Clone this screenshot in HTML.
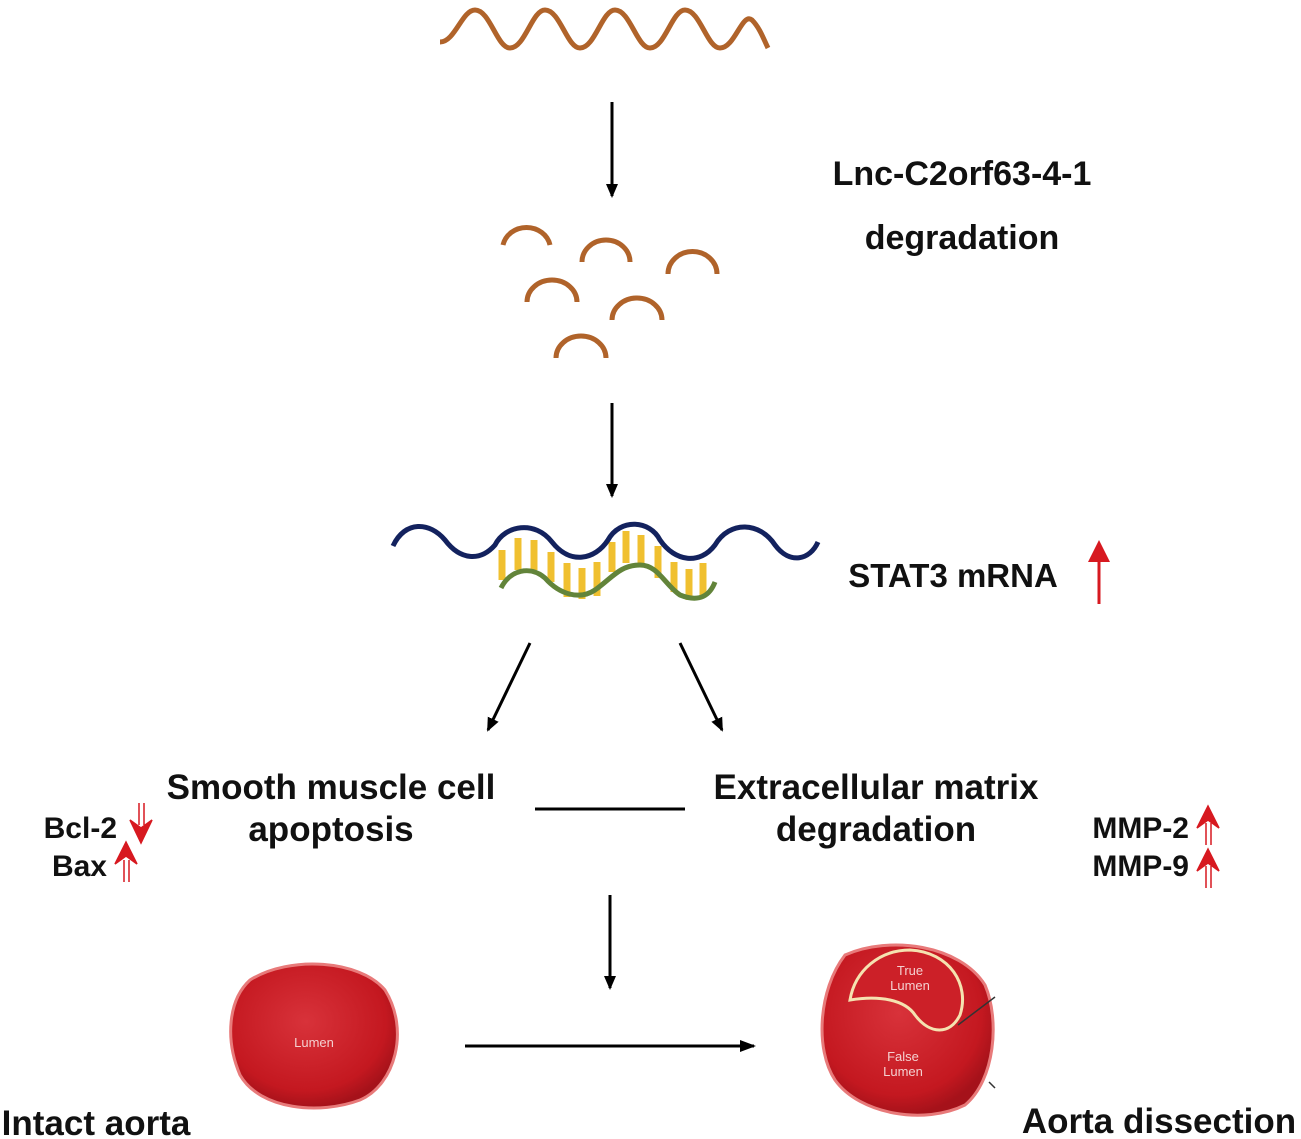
<!DOCTYPE html>
<html><head><style>
html,body{margin:0;padding:0;background:#fff;}
svg{display:block}
text{font-family:"Liberation Sans",Arial,sans-serif;font-weight:bold;fill:#111}
</style></head><body>
<svg width="1301" height="1139" viewBox="0 0 1301 1139" xmlns="http://www.w3.org/2000/svg">
<defs>
<marker id="ah" markerWidth="14" markerHeight="14" refX="12" refY="7" orient="auto" markerUnits="userSpaceOnUse" viewBox="0 0 14 14">
<path d="M0,1 L14,7 L0,13 Z" fill="#000"/></marker>
<marker id="ah2" markerWidth="16" markerHeight="14" refX="14" refY="7" orient="auto" markerUnits="userSpaceOnUse" viewBox="0 0 16 14">
<path d="M0,1 L16,7 L0,13 Z" fill="#000"/></marker>
<radialGradient id="red" cx="45%" cy="40%" r="60%">
<stop offset="0" stop-color="#d8323a"/><stop offset="0.8" stop-color="#c41820"/><stop offset="1" stop-color="#a5121a"/></radialGradient>
</defs>
<path d="M440,42 C455,42 462,10 475,10 C490,10 497,48 510,48 C525,48 532,10 545,10 C560,10 567,48 580,48 C595,48 602,10 615,10 C630,10 637,48 650,48 C665,48 672,10 685,10 C700,10 707,48 720,48 C735,48 742,12 752,20 C760,28 764,40 768,48" fill="none" stroke="#b0632a" stroke-width="5"/>
<line x1="612" y1="102" x2="612" y2="196" stroke="#000" stroke-width="3" marker-end="url(#ah)"/>
<text x="962" y="185" font-size="34" text-anchor="middle">Lnc-C2orf63-4-1</text>
<text x="962" y="249" font-size="34" text-anchor="middle">degradation</text>
<g fill="none" stroke="#b0632a" stroke-width="5">
<path d="M503,245 A24,22 0 0 1 550,245"/>
<path d="M582,262 A24,22 0 0 1 630,262"/>
<path d="M668,274 A24,22 0 0 1 717,274"/>
<path d="M527,302 A25,22 0 0 1 577,302"/>
<path d="M612,320 A25,22 0 0 1 662,320"/>
<path d="M556,358 A25,22 0 0 1 606,358"/>
</g>
<line x1="612" y1="403" x2="612" y2="496" stroke="#000" stroke-width="3" marker-end="url(#ah)"/>
<g stroke="#f0c030" stroke-width="7">
<line x1="502" y1="550" x2="502" y2="580"/><line x1="518" y1="538" x2="518" y2="570"/>
<line x1="534" y1="540" x2="534" y2="570"/><line x1="551" y1="552" x2="551" y2="582"/>
<line x1="567" y1="563" x2="567" y2="597"/><line x1="582" y1="568" x2="582" y2="599"/>
<line x1="597" y1="562" x2="597" y2="596"/><line x1="612" y1="542" x2="612" y2="572"/>
<line x1="626" y1="531" x2="626" y2="563"/><line x1="641" y1="535" x2="641" y2="566"/>
<line x1="658" y1="546" x2="658" y2="578"/><line x1="674" y1="562" x2="674" y2="592"/>
<line x1="689" y1="569" x2="689" y2="600"/><line x1="703" y1="563" x2="703" y2="595"/>
</g>
<path d="M393,546 C405,520 430,522 445,540 C460,560 480,562 495,545 C505,525 535,520 552,542 C570,565 595,560 608,540 C620,518 650,520 660,540 C675,562 700,565 715,545 C730,520 760,522 775,545 C790,565 810,560 818,542" fill="none" stroke="#13225e" stroke-width="5"/>
<path d="M501,588 C510,570 530,565 545,578 C560,595 580,600 595,590 C612,578 620,565 640,565 C658,565 665,585 680,595 C700,603 710,595 715,582" fill="none" stroke="#62843a" stroke-width="5"/>
<text x="953" y="587" font-size="33" text-anchor="middle">STAT3 mRNA</text>
<line x1="1099" y1="604" x2="1099" y2="556" stroke="#d71920" stroke-width="3"/>
<path d="M1088,562 L1099,540 L1110,562 Z" fill="#d71920"/>
<line x1="530" y1="643" x2="488" y2="730" stroke="#000" stroke-width="3" marker-end="url(#ah)"/>
<line x1="680" y1="643" x2="722" y2="730" stroke="#000" stroke-width="3" marker-end="url(#ah)"/>
<text x="331" y="799" font-size="35" text-anchor="middle">Smooth muscle cell</text>
<text x="331" y="841" font-size="35" text-anchor="middle">apoptosis</text>
<line x1="535" y1="809" x2="685" y2="809" stroke="#000" stroke-width="3"/>
<text x="876" y="799" font-size="35" text-anchor="middle">Extracellular matrix</text>
<text x="876" y="841" font-size="35" text-anchor="middle">degradation</text>
<text x="117" y="838" font-size="30" text-anchor="end">Bcl-2</text>
<text x="107" y="876" font-size="30" text-anchor="end">Bax</text>
<text x="1189" y="838" font-size="30" text-anchor="end">MMP-2</text>
<text x="1189" y="876" font-size="30" text-anchor="end">MMP-9</text>
<g fill="#d71920" stroke="#d71920" stroke-width="1.5">
<line x1="139" y1="803" x2="139" y2="825"/><line x1="144" y1="803" x2="144" y2="825"/>
<path d="M130,820 L141,843 L152,820 L141,828 Z"/>
<line x1="124" y1="860" x2="124" y2="882"/><line x1="129" y1="860" x2="129" y2="882"/>
<path d="M115,864 L126,842 L137,864 L126,856 Z"/>
<line x1="1206" y1="823" x2="1206" y2="845"/><line x1="1211" y1="823" x2="1211" y2="845"/>
<path d="M1197,828 L1208,806 L1219,828 L1208,820 Z"/>
<line x1="1206" y1="866" x2="1206" y2="888"/><line x1="1211" y1="866" x2="1211" y2="888"/>
<path d="M1197,871 L1208,849 L1219,871 L1208,863 Z"/>
</g>
<line x1="610" y1="895" x2="610" y2="988" stroke="#000" stroke-width="3" marker-end="url(#ah)"/>
<path d="M250,980 C290,955 360,960 385,990 C410,1030 395,1085 360,1100 C320,1115 260,1110 240,1075 C225,1040 228,1000 250,980 Z" fill="url(#red)" stroke="#e87a7a" stroke-width="3"/>
<text x="314" y="1047" font-size="13" style="font-weight:normal;fill:#f4d0d0" text-anchor="middle">Lumen</text>
<text x="96" y="1135" font-size="35" text-anchor="middle">Intact aorta</text>
<line x1="465" y1="1046" x2="754" y2="1046" stroke="#000" stroke-width="3" marker-end="url(#ah2)"/>
<path d="M845,955 C890,935 960,945 985,985 C1000,1020 995,1080 965,1105 C925,1125 860,1115 835,1080 C815,1050 818,990 845,955 Z" fill="url(#red)" stroke="#e87a7a" stroke-width="3"/>
<path d="M850,1000 C855,970 880,950 910,950 C950,952 970,985 960,1015 C950,1035 930,1035 915,1015 C905,1000 880,995 850,1000 Z" fill="#cc2028" stroke="#f5e2b0" stroke-width="3"/>
<text x="910" y="975" font-size="13" style="font-weight:normal;fill:#f4d0d0" text-anchor="middle">True</text>
<text x="910" y="990" font-size="13" style="font-weight:normal;fill:#f4d0d0" text-anchor="middle">Lumen</text>
<text x="903" y="1061" font-size="13" style="font-weight:normal;fill:#f4d0d0" text-anchor="middle">False</text>
<text x="903" y="1076" font-size="13" style="font-weight:normal;fill:#f4d0d0" text-anchor="middle">Lumen</text>
<line x1="995" y1="997" x2="958" y2="1025" stroke="#333" stroke-width="1.5"/>
<line x1="995" y1="1088" x2="989" y2="1082" stroke="#333" stroke-width="1.5"/>
<text x="1159" y="1133" font-size="35" text-anchor="middle">Aorta dissection</text>
</svg>
</body></html>
